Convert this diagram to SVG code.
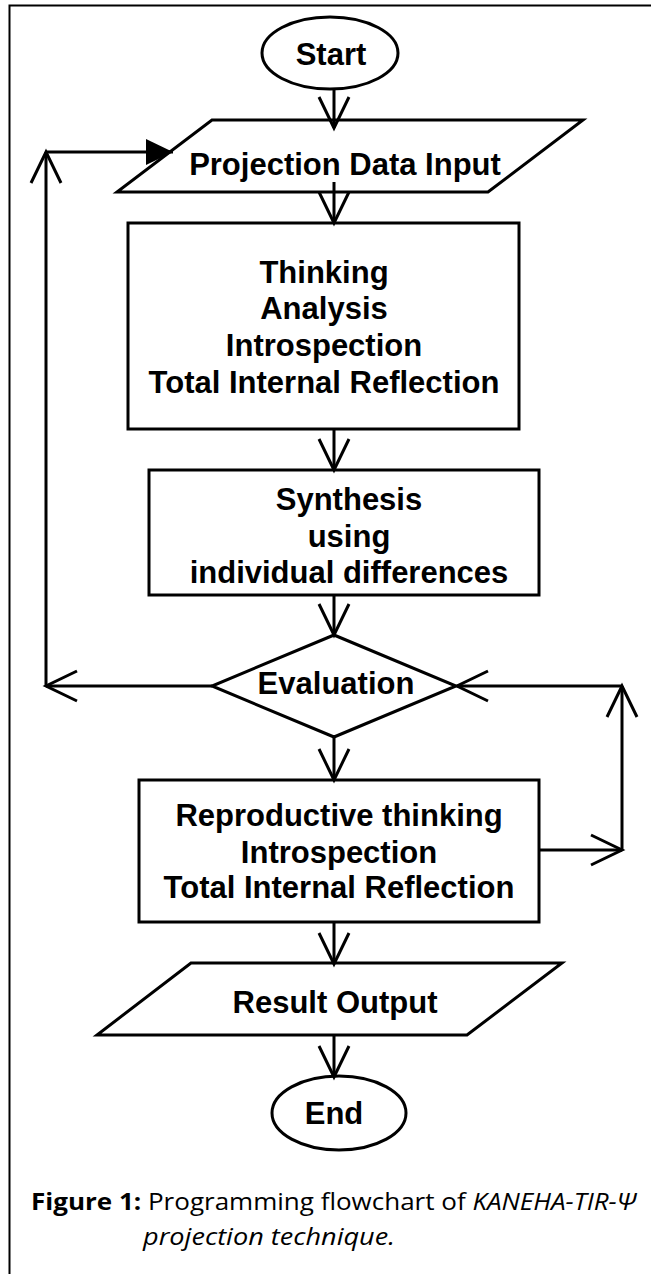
<svg xmlns="http://www.w3.org/2000/svg" width="651" height="1274" viewBox="0 0 651 1274">
<style>
.shape{fill:#fff;stroke:#000;stroke-width:3}
.lbl{font-family:"Liberation Sans",Arial,Helvetica,sans-serif;font-weight:bold;font-size:31px;text-anchor:middle;fill:#000}
.conn{fill:none;stroke:#000;stroke-width:3}
.cap{font-family:"Open Sans","Noto Sans",sans-serif;font-size:24px;fill:#000}
</style>
<defs>
<marker id="open" markerUnits="userSpaceOnUse" markerWidth="40" markerHeight="40" viewBox="-35 -20 40 40" refX="0" refY="0" orient="auto">
<path d="M-31,-15 L0,0 L-31,15" fill="none" stroke="#000" stroke-width="3"/>
</marker>
<marker id="solid" markerUnits="userSpaceOnUse" markerWidth="40" markerHeight="40" viewBox="-35 -20 40 40" refX="0" refY="0" orient="auto">
<path d="M-27,-13 L0,0 L-27,13 Z" fill="#000" stroke="none"/>
</marker>
</defs>
<path d="M9.5,1274 V5.5 H651" fill="none" stroke="#000" stroke-width="2"/>
<g id="start"><ellipse class="shape" cx="330" cy="53" rx="68" ry="36"/><text class="lbl" x="331" y="65">Start</text></g>
<g id="input"><polygon class="shape" points="212,120 583,120 488,192 117,192"/><text class="lbl" x="345" y="175">Projection Data Input</text></g>
<g id="analysis"><rect class="shape" x="128" y="223" width="391" height="206"/>
<text class="lbl" x="324" y="283">Thinking</text><text class="lbl" x="324" y="319">Analysis</text><text class="lbl" x="324" y="356">Introspection</text><text class="lbl" x="324" y="393">Total Internal Reflection</text></g>
<g id="synthesis"><rect class="shape" x="149" y="470" width="390" height="125"/>
<text class="lbl" x="349" y="510">Synthesis</text><text class="lbl" x="349" y="547">using</text><text class="lbl" x="349" y="583">individual differences</text></g>
<g id="evaluation"><polygon class="shape" points="334,635 456,686 334,737 212,686"/><text class="lbl" x="336" y="694">Evaluation</text></g>
<g id="reproductive"><rect class="shape" x="139" y="780" width="400" height="142"/>
<text class="lbl" x="339" y="826">Reproductive thinking</text><text class="lbl" x="339" y="863">Introspection</text><text class="lbl" x="339" y="898">Total Internal Reflection</text></g>
<g id="output"><polygon class="shape" points="191,963 562,963 467,1035 97,1035"/><text class="lbl" x="335" y="1013">Result Output</text></g>
<g id="end"><ellipse class="shape" cx="339" cy="1113" rx="67" ry="37"/><text class="lbl" x="334" y="1124">End</text></g>
<g id="connectors">
<path class="conn" d="M334,89 V128" marker-end="url(#open)"/>
<path class="conn" d="M334,182 V223" marker-end="url(#open)"/>
<path class="conn" d="M334,429 V470" marker-end="url(#open)"/>
<path class="conn" d="M334,595 V635" marker-end="url(#open)"/>
<path class="conn" d="M334,737 V780" marker-end="url(#open)"/>
<path class="conn" d="M334,922 V964" marker-end="url(#open)"/>
<path class="conn" d="M334,1035 V1077" marker-end="url(#open)"/>
<path class="conn" d="M212,686 H46" marker-end="url(#open)"/>
<path class="conn" d="M46,686 V152" marker-end="url(#open)"/>
<path class="conn" d="M46,152 H173" marker-end="url(#solid)"/>
<path class="conn" d="M539,850 H622" marker-end="url(#open)"/>
<path class="conn" d="M622,850 V686" marker-end="url(#open)"/>
<path class="conn" d="M622,686 H457" marker-end="url(#open)"/>
</g>
<g id="caption">
<text class="cap" x="31" y="1210" textLength="605" lengthAdjust="spacingAndGlyphs"><tspan font-weight="bold">Figure 1:</tspan> Programming flowchart of <tspan font-style="italic">KANEHA-TIR-Ψ</tspan></text>
<text class="cap" x="143" y="1245" font-style="italic" textLength="252" lengthAdjust="spacingAndGlyphs">projection technique.</text>
</g>
</svg>
